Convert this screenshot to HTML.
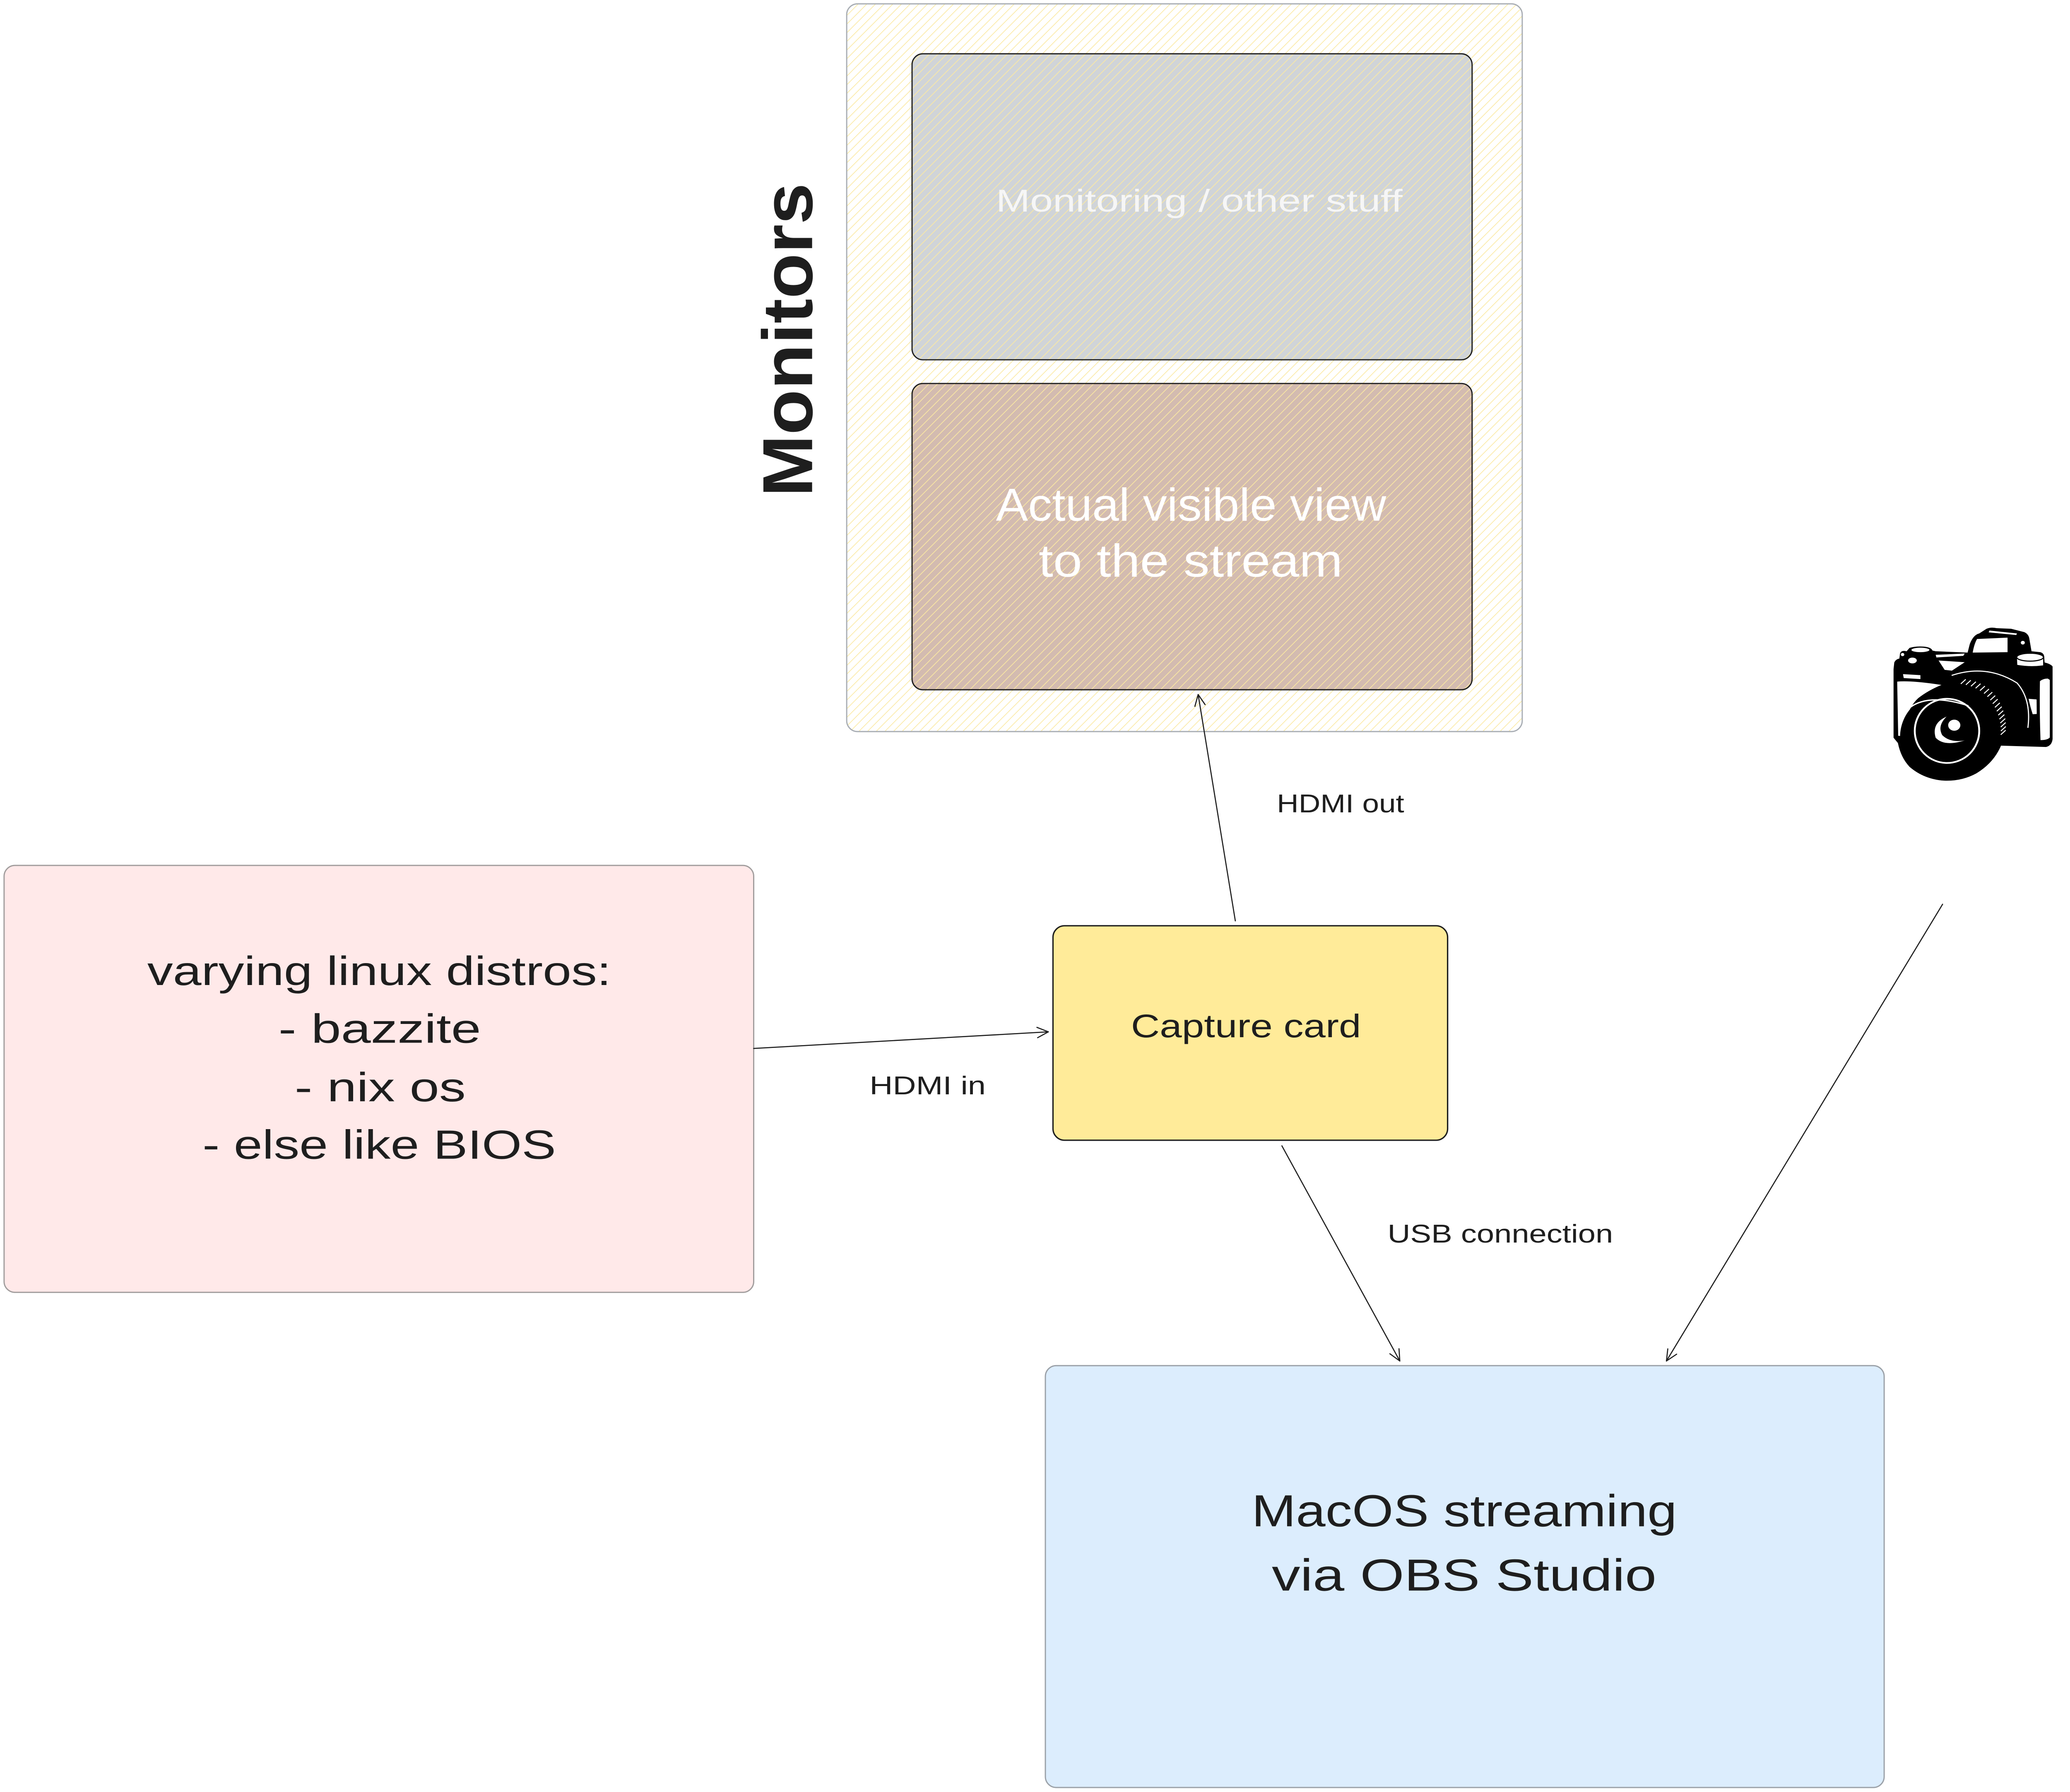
<!DOCTYPE html>
<html>
<head>
<meta charset="utf-8">
<style>
html,body{margin:0;padding:0;background:#ffffff;}
svg{display:block;}
text{font-family:"Liberation Sans", sans-serif;}
</style>
</head>
<body>
<svg xmlns="http://www.w3.org/2000/svg" width="5155" height="4328" viewBox="0 0 1567.3 1315.9" preserveAspectRatio="none">
<defs>
  <pattern id="hy" patternUnits="userSpaceOnUse" width="4.5" height="10" patternTransform="rotate(45)">
    <line x1="2.25" y1="0" x2="2.25" y2="10" stroke="#fbe9a2" stroke-width="0.5"/>
  </pattern>
</defs>

<rect x="0" y="0" width="1567.3" height="1315.9" fill="#ffffff"/>

<!-- Monitors container -->
<rect x="621.8" y="2.8" width="496.1" height="534.4" rx="8" ry="8" fill="#ffffff"/>
<rect x="669.8" y="39.5" width="411.3" height="224.7" rx="8" ry="8" fill="#d0d4d8"/>
<rect x="669.8" y="281.6" width="411.3" height="224.9" rx="8" ry="8" fill="#d3bbb0"/>
<rect x="621.8" y="2.8" width="496.1" height="534.4" rx="8" ry="8" fill="url(#hy)"/>
<rect x="669.8" y="39.5" width="411.3" height="224.7" rx="8" ry="8" fill="none" stroke="#1e1e1e" stroke-width="0.9"/>
<rect x="669.8" y="281.6" width="411.3" height="224.9" rx="8" ry="8" fill="none" stroke="#1e1e1e" stroke-width="0.9"/>
<rect x="621.8" y="2.8" width="496.1" height="534.4" rx="8" ry="8" fill="none" stroke="#a9aeb4" stroke-width="0.9"/>

<text x="731.4" y="155.3" font-size="23" fill="#f6f6f6" textLength="298.6" lengthAdjust="spacingAndGlyphs">Monitoring / other stuff</text>
<text x="731.4" y="382.3" font-size="34" fill="#ffffff" textLength="286.6" lengthAdjust="spacingAndGlyphs">Actual visible view</text>
<text x="762.8" y="423.4" font-size="34" fill="#ffffff" textLength="223.2" lengthAdjust="spacingAndGlyphs">to the stream</text>

<text transform="translate(596.4,364.8) rotate(-90)" font-size="52" font-weight="bold" fill="#1e1e1e" textLength="230.4" lengthAdjust="spacingAndGlyphs">Monitors</text>

<!-- Pink box -->
<rect x="3.0" y="635.5" width="550.5" height="313.5" rx="8" ry="8" fill="#ffe9e9" stroke="#a19d9d" stroke-width="0.9"/>
<text x="108.2" y="723.3" font-size="30" fill="#1e1e1e" textLength="340.6" lengthAdjust="spacingAndGlyphs">varying linux distros:</text>
<text x="204.5" y="765.7" font-size="30" fill="#1e1e1e" textLength="148.7" lengthAdjust="spacingAndGlyphs">- bazzite</text>
<text x="216.4" y="808.7" font-size="30" fill="#1e1e1e" textLength="125.6" lengthAdjust="spacingAndGlyphs">- nix os</text>
<text x="148.7" y="850.9" font-size="30" fill="#1e1e1e" textLength="259.6" lengthAdjust="spacingAndGlyphs">- else like BIOS</text>

<!-- Capture card -->
<rect x="773.3" y="679.8" width="289.8" height="157.5" rx="8.5" ry="8.5" fill="#ffeb99" stroke="#1e1e1e" stroke-width="1"/>
<text x="830.6" y="761.7" font-size="24" fill="#1e1e1e" textLength="168.9" lengthAdjust="spacingAndGlyphs">Capture card</text>

<!-- Blue box -->
<rect x="767.7" y="1002.8" width="616" height="309.8" rx="8" ry="8" fill="#dcedfd" stroke="#9ba1a8" stroke-width="0.9"/>
<text x="919.2" y="1120.8" font-size="33" fill="#1e1e1e" textLength="312.3" lengthAdjust="spacingAndGlyphs">MacOS streaming</text>
<text x="934" y="1168" font-size="33" fill="#1e1e1e" textLength="282.5" lengthAdjust="spacingAndGlyphs">via OBS Studio</text>

<!-- Arrows -->
<g fill="none" stroke="#1e1e1e" stroke-width="0.8" stroke-linecap="round" stroke-linejoin="round">
  <path d="M553.5,769.9 L769.9,757.7"/>
  <path d="M761.5,754.4 L769.9,757.7 L762.0,762.0"/>
  <path d="M907.2,676.2 L879.9,510"/>
  <path d="M877.5,518.7 L879.9,510 L885.0,517.4"/>
  <path d="M941.4,841.4 L1028,999.4"/>
  <path d="M1027.4,990.4 L1028,999.4 L1020.7,994.1"/>
  <path d="M1426.6,664 L1223.8,999.4"/>
  <path d="M1231.3,994.4 L1223.8,999.4 L1224.8,990.5"/>
</g>

<text x="638.6" y="803.6" font-size="19" fill="#1e1e1e" textLength="85.3" lengthAdjust="spacingAndGlyphs">HDMI in</text>
<text x="937.7" y="596.5" font-size="19" fill="#1e1e1e" textLength="93.5" lengthAdjust="spacingAndGlyphs">HDMI out</text>
<text x="1019" y="912.5" font-size="19" fill="#1e1e1e" textLength="165.6" lengthAdjust="spacingAndGlyphs">USB connection</text>

<!-- Camera -->
<g transform="translate(1368.2,440.9) scale(0.10665,0.09696)">
  <path fill="#000" d="M210,520 L215,470 Q225,445 250,440 L255,400 Q265,375 300,385 L320,360 Q360,345 420,350 Q470,355 478,380 L500,385 L720,395 L735,330 Q760,260 800,250 L850,215 Q880,200 920,210 L1020,215 L1110,240 Q1140,255 1145,290 L1160,385 L1220,392 Q1250,400 1248,440 L1250,470 Q1290,480 1305,500 L1305,1050 Q1300,1100 1260,1110 L950,1100 Q900,1230 780,1310 Q680,1370 560,1365 Q420,1355 320,1260 Q260,1190 240,1080 L210,1040 Z"/>
  <path fill="#fff" d="M235,615 Q330,605 540,640 Q450,680 380,740 Q320,800 300,900 L290,1030 L242,1025 Z"/>
  <path fill="#fff" d="M275,558 L395,566 L395,596 L280,588 Z"/>
  <ellipse cx="395" cy="375" rx="62" ry="17" fill="#fff"/>
  <ellipse cx="340" cy="455" rx="30" ry="22" fill="#fff"/>
  <circle cx="272" cy="410" r="12" fill="#fff"/>
  <path fill="#fff" d="M500,412 L700,402 L690,420 L505,432 Z"/>
  <path fill="#fff" d="M520,455 L700,468 L612,532 L562,526 Z"/>
  <path fill="#fff" d="M785,292 L995,282 L995,392 L755,395 Q765,330 785,292 Z"/>
  <path fill="#fff" d="M870,228 L1060,250 L1055,262 L865,242 Z"/>
  <circle cx="1100" cy="320" r="14" fill="#fff"/>
  <path fill="#fff" d="M1060,440 L1240,440 L1240,492 Q1150,505 1062,488 Z"/>
  <ellipse cx="1150" cy="430" rx="92" ry="30" fill="#fff" stroke="#000" stroke-width="8"/>
  <path fill="#fff" d="M1218,612 Q1240,592 1272,592 L1286,602 L1286,1038 Q1270,1058 1222,1058 Q1214,820 1218,612 Z"/>
  <path fill="#fff" d="M1140,745 L1195,750 L1196,860 L1168,862 Q1150,800 1140,745 Z"/>
  <ellipse cx="567" cy="1032" rx="312" ry="332" fill="#000"/>
  <path d="M318,815 Q450,700 725,798" fill="none" stroke="#fff" stroke-width="10"/>
  <path d="M610,568 Q850,480 1060,625 Q1160,750 1135,965" fill="none" stroke="#fff" stroke-width="8"/>
  <ellipse cx="578" cy="988" rx="222" ry="243" fill="none" stroke="#fff" stroke-width="13"/>
  <path fill="#fff" d="M575,880 Q470,930 500,1040 Q560,1110 700,1060 Q600,1080 545,1020 Q510,950 575,880 Z"/>
  <circle cx="628" cy="945" r="42" fill="#fff"/>
  <path fill="none" stroke="#fff" stroke-width="7" d="M707,598 L673,632 M742,605 L708,639 M777,616 L743,650 M809,631 L775,665 M839,649 L805,683 M867,671 L833,705 M890,695 L856,729 M910,721 L876,755 M927,748 L893,782 M942,776 L908,810 M955,805 L921,839 M965,835 L931,869 M973,865 L939,899 M979,895 L945,929 M982,925 L948,959 M983,955 L949,989 M982,983 L948,1017"/>
</g>
</svg>
</body>
</html>
